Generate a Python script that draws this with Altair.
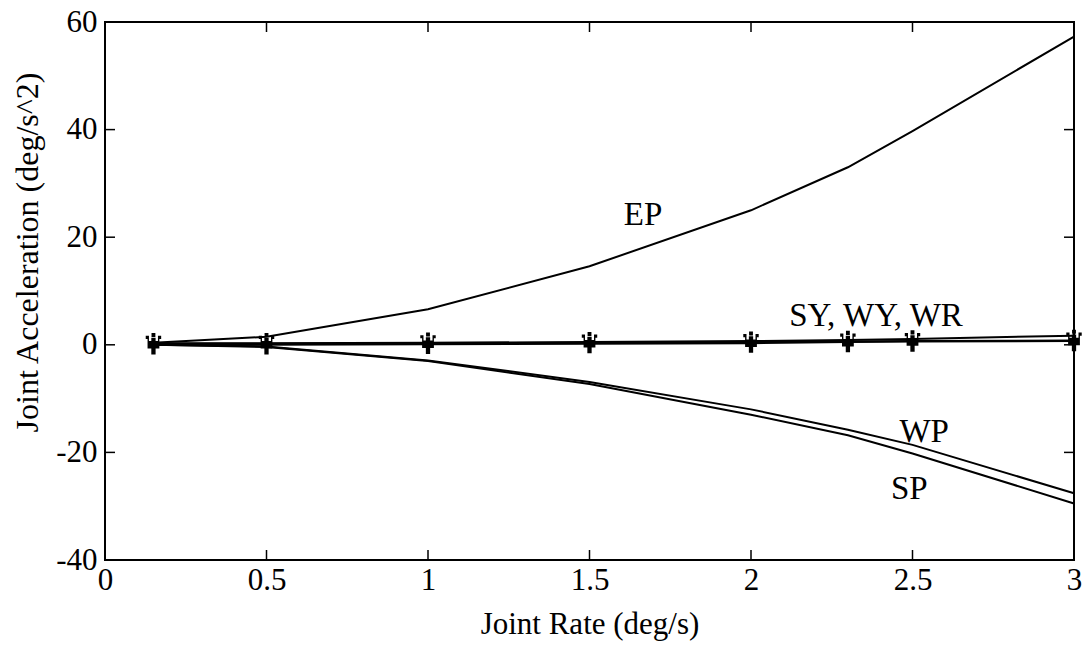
import altair as alt
import pandas as pd

x_vals = [0.15, 0.5, 1.0, 1.5, 2.0, 2.3, 2.5, 3.0]
ep = [0.4, 1.5, 6.6, 14.6, 25.0, 33.0, 39.7, 57.3]
wp = [0.0, -0.3, -2.9, -6.9, -12.0, -15.8, -18.6, -27.6]
sp = [0.0, -0.4, -3.0, -7.3, -13.0, -16.8, -20.2, -29.5]
sy = [0.3, 0.3, 0.4, 0.5, 0.7, 0.9, 1.1, 1.7]
wy = [0.2, 0.2, 0.3, 0.4, 0.5, 0.6, 0.7, 0.8]
wr = [0.0, 0.0, 0.1, 0.2, 0.3, 0.5, 0.6, 0.7]

x_ticks = [0, 0.5, 1, 1.5, 2, 2.5, 3]
y_ticks = [-40, -20, 0, 20, 40, 60]

labels_text = ["EP", "SY, WY, WR", "WP", "SP"]
labels_x = [1.666, 2.387, 2.536, 2.49]
labels_y = [22.2, 3.5, -18.0, -28.6]

W, H = 969, 538
FONT = "Liberation Serif"

rows = []
for name, vals in [("EP", ep), ("WP", wp), ("SP", sp), ("SY", sy), ("WY", wy), ("WR", wr)]:
    for xv, yv in zip(x_vals, vals):
        rows.append({"series": name, "x": xv, "y": yv})
df = pd.DataFrame(rows)

xs = alt.Scale(domain=[0, 3], nice=False, zero=False)
ys = alt.Scale(domain=[-40, 60], nice=False, zero=False)

xax = alt.Axis(values=x_ticks, ticks=False, domain=False, grid=False, labelFont=FONT,
               labelFontSize=31, labelColor="black", labelPadding=5, title="Joint Rate (deg/s)",
               titleFont=FONT, titleFontSize=31, titleFontWeight="normal", titleColor="black",
               titlePadding=14, labelFlush=False, labelOverlap=False,
               labelExpr="toString(datum.value)")
yax = alt.Axis(values=y_ticks, ticks=False, domain=False, grid=False, labelFont=FONT,
               labelFontSize=31, labelColor="black", labelPadding=8,
               title="Joint Acceleration (deg/s^2)",
               titleFont=FONT, titleFontSize=32, titleFontWeight="normal", titleColor="black",
               titleX=-78, titleY=230, titleAlign="center", titleBaseline="middle", titleAngle=270,
               labelFlush=False, labelOverlap=False, labelExpr="toString(datum.value)")

lines = alt.Chart(df).mark_line(color="black", strokeWidth=2).encode(
    x=alt.X("x:Q", scale=xs, axis=xax),
    y=alt.Y("y:Q", scale=ys, axis=yax),
    detail="series:N",
)

crown = ("M-0.2,-0.55 L0.2,-0.55 L0.2,-0.25 L0.42,-0.25 L0.42,-0.75 L0.72,-0.75 L0.72,-0.45 "
         "L0.55,-0.45 L0.55,0.45 L0.2,0.45 L0.2,1 L-0.2,1 L-0.2,0.45 L-0.55,0.45 L-0.55,-0.45 "
         "L-0.72,-0.45 L-0.72,-0.75 L-0.42,-0.75 L-0.42,-0.25 L-0.2,-0.25 Z "
         "M-0.18,-1 L0.18,-1 L0.18,-0.62 L-0.18,-0.62 Z")

marks = alt.Chart(df[df.series == "WY"]).mark_point(
    shape=crown, filled=True, color="black", size=460, opacity=1
).encode(x=alt.X("x:Q", scale=xs), y=alt.Y("y:Q", scale=ys))

lab_df = pd.DataFrame({"t": labels_text, "x": labels_x, "y": labels_y})
labels = alt.Chart(lab_df).mark_text(font=FONT, fontSize=33, color="black", align="center",
                                     baseline="alphabetic").encode(
    x=alt.X("x:Q", scale=xs), y=alt.Y("y:Q", scale=ys), text="t:N")

yt = pd.DataFrame({"v": y_ticks[1:-1]})
xt = pd.DataFrame({"v": x_ticks[1:-1]})
tl = alt.Chart(yt).mark_rule(color="black", strokeWidth=1.5).encode(
    y=alt.Y("v:Q", scale=ys), x=alt.value(0), x2=alt.value(10))
tr = alt.Chart(yt).mark_rule(color="black", strokeWidth=1.5).encode(
    y=alt.Y("v:Q", scale=ys), x=alt.value(W - 10), x2=alt.value(W))
tb = alt.Chart(xt).mark_rule(color="black", strokeWidth=1.5).encode(
    x=alt.X("v:Q", scale=xs), y=alt.value(H - 10), y2=alt.value(H))
tt = alt.Chart(xt).mark_rule(color="black", strokeWidth=1.5).encode(
    x=alt.X("v:Q", scale=xs), y=alt.value(0), y2=alt.value(10))

chart = alt.layer(lines, marks, labels, tl, tr, tb, tt).properties(
    width=W, height=H,
    autosize=alt.AutoSizeParams(type="none"),
    padding={"left": 105, "top": 22, "right": 12, "bottom": 96},
    background="white",
).configure_view(stroke="black", strokeWidth=2)

chart.save("out.html", embed_options={"renderer": "svg", "actions": False})
